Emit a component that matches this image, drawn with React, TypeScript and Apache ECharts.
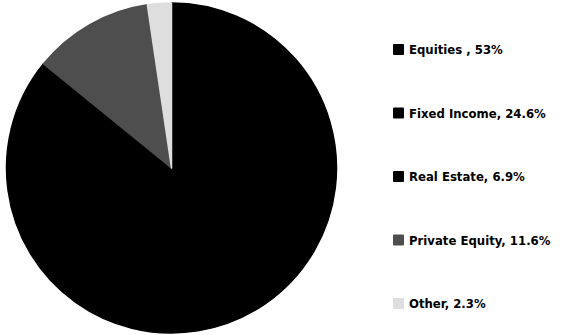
import React, { useEffect, useRef } from "react";
import * as echarts from "echarts";

const categories = ["Equities", "Fixed Income", "Real Estate", "Private Equity", "Other"];
const values = [53, 24.6, 6.9, 11.6, 2.3];
const legendLabels = ["Equities , 53%", "Fixed Income, 24.6%", "Real Estate, 6.9%", "Private Equity, 11.6%", "Other, 2.3%"];
const colors = ["#000000", "#000000", "#000000", "#4e4e4e", "#dedede"];

export default function App() {
  const ref = useRef<HTMLDivElement>(null);
  useEffect(() => {
    document.body.style.margin = "0";
    const chart = echarts.init(ref.current!, null, { renderer: "svg" });
    chart.setOption({
      animation: false,
      backgroundColor: "#ffffff",
      legend: {
        orient: "vertical",
        left: 388,
        top: 38,
        itemWidth: 9,
        itemHeight: 9,
        itemGap: 50.5,
        icon: "rect",
        data: categories,
        formatter: (name: string) => legendLabels[categories.indexOf(name)],
        textStyle: {
          fontFamily: "DejaVu Sans Condensed, DejaVu Sans, sans-serif",
          fontWeight: "bold",
          fontSize: 13,
          color: "#000",
          padding: [0, 0, 0, 1],
        },
      },
      series: [
        {
          type: "pie",
          center: [171.5, 168],
          radius: [0, 165],
          startAngle: 90,
          clockwise: true,
          label: { show: false },
          labelLine: { show: false },
          emphasis: { disabled: true },
          data: categories.map((c, i) => ({
            name: c,
            value: values[i],
            itemStyle: { color: colors[i], borderColor: colors[i], borderWidth: 1.5 },
          })),
        },
      ],
    });
    return () => chart.dispose();
  }, []);
  return <div ref={ref} style={{ position: "absolute", left: 0, top: 0, width: 562, height: 335 }} />;
}
